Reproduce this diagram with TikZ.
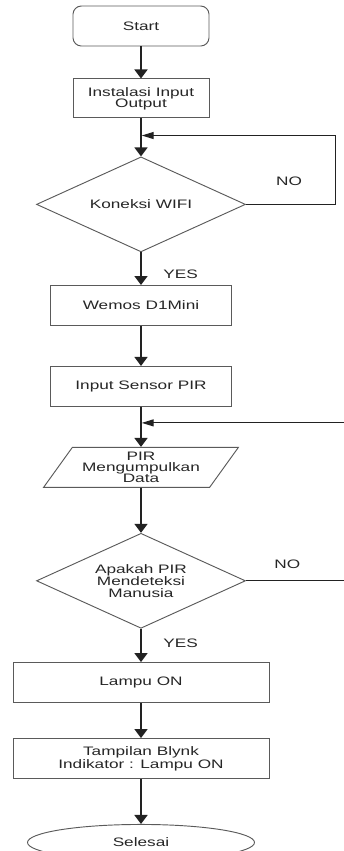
\documentclass[tikz,border=0pt]{standalone}
\usepackage{fontspec}
\setmainfont{Liberation Sans}[FakeStretch=1.4]
\usetikzlibrary{arrows.meta,positioning,shapes.geometric,calc}
\definecolor{ink}{HTML}{222222}
\definecolor{edge}{HTML}{5A5A5A}
\definecolor{txt}{HTML}{262626}
\tikzset{
  base/.style={draw=edge,line width=0.8pt,align=center,text=txt,
               font=\fontsize{10.5}{9.6}\selectfont,inner sep=1pt},
  term/.style={base,rounded corners=2.5mm,minimum width=40.8mm,minimum height=12mm},
  proc/.style={base,minimum width=54.3mm,minimum height=12mm},
  wide/.style={base,minimum width=76.8mm,minimum height=12mm},
  decide/.style={base,diamond,aspect=2.2,minimum width=62.7mm,minimum height=28.5mm},
  io/.style={base,trapezium,trapezium left angle=53,trapezium right angle=127,
             trapezium stretches=true,minimum width=58.5mm,minimum height=12mm},
  finish/.style={base,ellipse,minimum width=68.1mm,minimum height=10.8mm},
  arrow/.style={-{Triangle[width=3.9mm,length=2.7mm]},line width=1.4pt,draw=ink},
  back/.style={-{Triangle[width=2.1mm,length=3.6mm]},line width=1pt,draw=ink,
               shorten >=0.6pt},
  lbl/.style={font=\fontsize{10.5}{10.5}\selectfont,text=txt,inner sep=0pt}
}
\begin{document}
\begin{tikzpicture}
\useasboundingbox (0,0) rectangle (102.9mm,-255.3mm);
\node[term] (start) at (42.3mm,-7.8mm) {Start};
\node[proc,minimum width=40.8mm,minimum height=11.7mm,below=9.6mm of start] (instal) {Instalasi Input\\Output};
\node[decide,below=11.4mm of instal] (wifi) {Koneksi WIFI};
\node[proc,below=9.8mm of wifi] (wemos) {Wemos D1Mini};
\node[proc,below=12mm of wemos] (sensor) {Input Sensor PIR};
\node[io,below=12mm of sensor] (data) {PIR\\Mengumpulkan\\Data};
\node[decide,below=13.5mm of data] (human) {Apakah PIR\\Mendeteksi\\Manusia};
\node[wide,below=10mm of human] (lamp) {Lampu ON};
\node[wide,below=10.5mm of lamp] (blynk) {Tampilan Blynk\\Indikator : Lampu ON};
\node[finish,below=13.5mm of blynk] (done) {Selesai};
\coordinate (j1) at ($(instal.south)!0.45!(wifi.north)$);
\coordinate (j2) at ($(sensor.south)!0.4!(data.north)$);
\draw[arrow] (start)--(instal);
\draw[arrow] (instal)--(wifi);
\draw[arrow] (wifi)--node[lbl,pos=0.67,right=6.5mm]{YES}(wemos);
\draw[arrow] (wemos)--(sensor);
\draw[arrow] (sensor)--(data);
\draw[arrow] (data)--(human);
\draw[arrow] (human)--node[lbl,pos=0.43,right=6.5mm]{YES}(lamp);
\draw[arrow] (lamp)--(blynk);
\draw[arrow] (blynk)--(done);
\draw[back] (wifi.east)--node[lbl,pos=0.48,above=5.4mm]{NO} ++(26.9mm,0) |- (j1);
\draw[back] (human.east)--node[lbl,pos=0.4,above=3.6mm]{NO} ++(31mm,0) |- (j2);
\end{tikzpicture}
\end{document}
